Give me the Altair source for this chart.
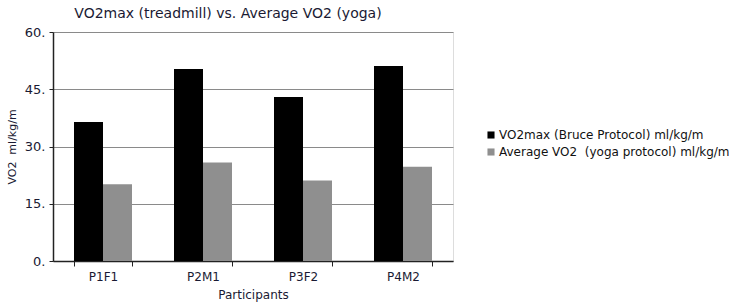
import altair as alt
import pandas as pd

participants = ["P1F1", "P2M1", "P3F2", "P4M2"]
vo2max_bruce = [36.4, 50.3, 43.0, 51.1]
avg_vo2_yoga = [20.1, 25.8, 21.1, 24.7]
series_names = ["VO2max (Bruce Protocol) ml/kg/m", "Average VO2\u00a0 (yoga protocol) ml/kg/m"]
y_ticks = [0, 15, 30, 45, 60]

rows = []
for p, a, b in zip(participants, vo2max_bruce, avg_vo2_yoga):
    rows.append({"Participant": p, "Series": series_names[0], "Value": a})
    rows.append({"Participant": p, "Series": series_names[1], "Value": b})
df = pd.DataFrame(rows)

FONT = "DejaVu Sans"

bars = alt.Chart(df).mark_bar(stroke=None).encode(
    x=alt.X("Participant:N", sort=participants,
            scale=alt.Scale(paddingInner=0.42, paddingOuter=0.21),
            axis=alt.Axis(title="Participants", labelAngle=0, bandPosition=0,
                          tickBand="extent", ticks=True, tickSize=5, tickColor="#222",
                          domainColor="#222", domainWidth=1.5,
                          labelColor="#1a1a33", labelFontSize=12, labelFont=FONT,
                          labelPadding=5,
                          titleFont=FONT, titleFontSize=12, titleFontWeight="normal",
                          titleColor="#1a1a33", titlePadding=7, grid=False)),
    xOffset=alt.XOffset("Series:N", sort=series_names),
    y=alt.Y("Value:Q", scale=alt.Scale(domain=[0, 60], nice=False),
            axis=alt.Axis(title="VO2\u00a0 ml/kg/m", values=y_ticks,
                          labelExpr="datum.value + '.'",
                          grid=True, gridColor="#8a8a8a", gridWidth=1,
                          domainColor="#222", domainWidth=1.5,
                          ticks=True, tickSize=4, tickColor="#222",
                          labelColor="#1a1a33", labelFontSize=13, labelFont=FONT,
                          labelPadding=4,
                          titleFont=FONT, titleFontSize=11, titleFontWeight="normal",
                          titleColor="#1a1a33", titleX=-41, titleBaseline="middle")),
    color=alt.Color("Series:N", sort=series_names,
                    scale=alt.Scale(domain=series_names, range=["#000000", "#8f8f8f"]),
                    legend=alt.Legend(title=None, orient="none", legendX=432, legendY=97,
                                      symbolType="square", symbolSize=50,
                                      symbolStrokeWidth=0, labelFont=FONT,
                                      labelFontSize=12, labelColor="#111",
                                      labelLimit=400,
                                      rowPadding=5, labelOffset=2)),
)

chart = bars.properties(
    width=400, height=229,
    title=alt.TitleParams("VO2max (treadmill) vs. Average VO2 (yoga)", anchor="middle",
                          frame="group", dx=-25, offset=5, font=FONT, fontSize=14,
                          fontWeight="normal", color="#1a1a33"),
    autosize=alt.AutoSizeParams(type="none"),
    padding={"left": 53, "top": 32, "right": 276, "bottom": 47},
).configure_view(stroke=None).configure(background="white")

chart.save("out.html", embed_options={"renderer": "svg", "actions": False})
